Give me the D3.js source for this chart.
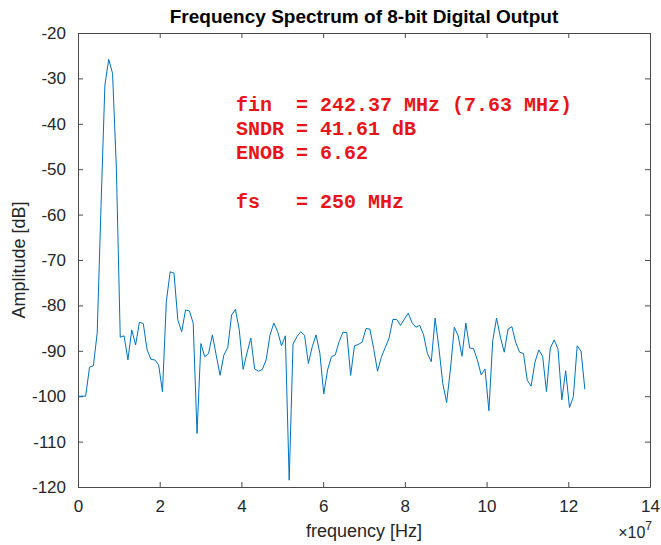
<!DOCTYPE html>
<html>
<head>
<meta charset="utf-8">
<script src="https://cdn.jsdelivr.net/npm/d3@7"></script>
<style>
  body { margin: 0; background: #fff; }
  svg { display: block; }
</style>
</head>
<body>
<div id="chart"></div>
<script>
// sampling setup (bin spacing)
const fs = 250e6;
const nfft = 266;

// amplitude of each bin [dB]
const amplitude = [
  -100, -100, -100, -93.6, -93.3, -86.1, -58, -31.5, -25.8, -28.9,
  -50, -87.0, -86.7, -92.0, -85.4, -88.7, -83.7, -84.0, -89.8, -91.9,
  -92.0, -93.1, -99.0, -79.2, -72.6, -72.9, -83.2, -85.8, -81.0, -81.2,
  -83.9, -108.2, -88.4, -91.3, -90.6, -86.5, -91.0, -95.4, -90.9, -89.3,
  -82.1, -80.9, -85.4, -94.1, -90.5, -87.2, -94.0, -94.5, -94.1, -92.0,
  -86.5, -83.9, -85.8, -88.9, -86.7, -118.5, -88.5, -86.9, -85.8, -86.6,
  -92.8, -89.1, -86.5, -90.6, -99.5, -94.2, -91.3, -90.9, -88.0, -85.9,
  -86.0, -95.4, -88.9, -88.6, -88.1, -85.1, -85.2, -89.5, -94.5, -91.4,
  -89.3, -87.2, -83.1, -83.1, -84.4, -83.0, -81.7, -83.8, -84.8, -84.4,
  -86.5, -90.6, -92.4, -82.8, -89.5, -97.2, -101.4, -94.0, -84.8, -86.7,
  -91.2, -83.9, -89.4, -89.5, -92.0, -95.3, -94.0, -103.2, -87.8, -82.8,
  -87.0, -90.3, -85.2, -84.7, -88.2, -90.3, -90.6, -96.5, -97.8, -92.5,
  -89.8, -91.2, -99.0, -89.4, -87.6, -89.6, -100.8, -94.4, -102.5, -100.1,
  -88.9, -90.1, -98.5
];
const freq = amplitude.map((d, i) => i * fs / nfft);

const xTicks = [0, 2e7, 4e7, 6e7, 8e7, 10e7, 12e7, 14e7];
const yTicks = [-120, -110, -100, -90, -80, -70, -60, -50, -40, -30, -20];

const infoLines = [
  "fin  = 242.37 MHz (7.63 MHz)",
  "SNDR = 41.61 dB",
  "ENOB = 6.62",
  "",
  "fs   = 250 MHz"
];

const width = 661;
const height = 545;
const margin = { top: 33, right: 11, bottom: 58, left: 78 };
const axisColor = "#4a4a4a";
const font = "'Liberation Sans', Arial, Helvetica, sans-serif";

const svg = d3.select("#chart")
  .append("svg")
  .attr("width", width)
  .attr("height", height);

const x = d3.scaleLinear()
  .domain([0, 14e7])
  .range([margin.left, width - margin.right]);

const y = d3.scaleLinear()
  .domain([-120, -20])
  .range([height - margin.bottom, margin.top]);

// 四邊框線加上向內刻度 (MATLAB box on)
const xBottom = svg.append("g")
  .attr("transform", `translate(0,${height - margin.bottom})`)
  .call(d3.axisBottom(x).tickValues(xTicks).tickSizeInner(-5).tickSizeOuter(0)
    .tickPadding(13).tickFormat(d => d / 1e7));
const xTop = svg.append("g")
  .attr("transform", `translate(0,${margin.top})`)
  .call(d3.axisTop(x).tickValues(xTicks).tickSizeInner(-5).tickSizeOuter(0).tickFormat(""));
const yLeft = svg.append("g")
  .attr("transform", `translate(${margin.left},0)`)
  .call(d3.axisLeft(y).tickValues(yTicks).tickSizeInner(-5).tickSizeOuter(0)
    .tickPadding(12).tickFormat(d => String(d)));
const yRight = svg.append("g")
  .attr("transform", `translate(${width - margin.right},0)`)
  .call(d3.axisRight(y).tickValues(yTicks).tickSizeInner(-5).tickSizeOuter(0).tickFormat(""));

[xBottom, xTop, yLeft, yRight].forEach(g => {
  g.selectAll("path, line").attr("stroke", axisColor);
  g.selectAll("text")
    .attr("fill", "#262626")
    .style("font-family", font)
    .style("font-size", "17px");
});

// spectrum line
svg.append("path")
  .datum(amplitude)
  .attr("fill", "none")
  .attr("stroke", "#0072bd")
  .attr("stroke-width", 1)
  .attr("stroke-linejoin", "round")
  .attr("d", d3.line()
    .x((d, i) => x(freq[i]))
    .y(d => y(d)));

// title
svg.append("text")
  .attr("x", (margin.left + width - margin.right) / 2)
  .attr("y", 23)
  .attr("text-anchor", "middle")
  .attr("fill", "#000")
  .style("font-family", font)
  .style("font-weight", "bold")
  .style("font-size", "19px")
  .text("Frequency Spectrum of 8-bit Digital Output");

// axis labels
svg.append("text")
  .attr("x", (margin.left + width - margin.right) / 2)
  .attr("y", 537)
  .attr("text-anchor", "middle")
  .attr("fill", "#262626")
  .style("font-family", font)
  .style("font-size", "18px")
  .text("frequency [Hz]");

svg.append("text")
  .attr("transform", `translate(25,${(margin.top + height - margin.bottom) / 2}) rotate(-90)`)
  .attr("text-anchor", "middle")
  .attr("fill", "#262626")
  .style("font-family", font)
  .style("font-size", "18px")
  .text("Amplitude [dB]");

const expo = svg.append("text")
  .attr("x", width - margin.right + 2)
  .attr("y", 538)
  .attr("text-anchor", "end")
  .attr("fill", "#262626")
  .style("font-family", font)
  .style("font-size", "16px");
expo.append("tspan").text("\u00d710");
expo.append("tspan").attr("dy", -8).style("font-size", "12px").text("7");

// annotation text
svg.append("g")
  .selectAll("text")
  .data(infoLines)
  .join("text")
  .attr("x", 236)
  .attr("y", (d, i) => 111 + i * 24.2)
  .attr("fill", "#e8141a")
  .style("font-family", "'Courier New', 'Liberation Mono', monospace")
  .style("font-weight", "bold")
  .style("font-size", "20px")
  .style("white-space", "pre")
  .attr("xml:space", "preserve")
  .text(d => d);
</script>
</body>
</html>
